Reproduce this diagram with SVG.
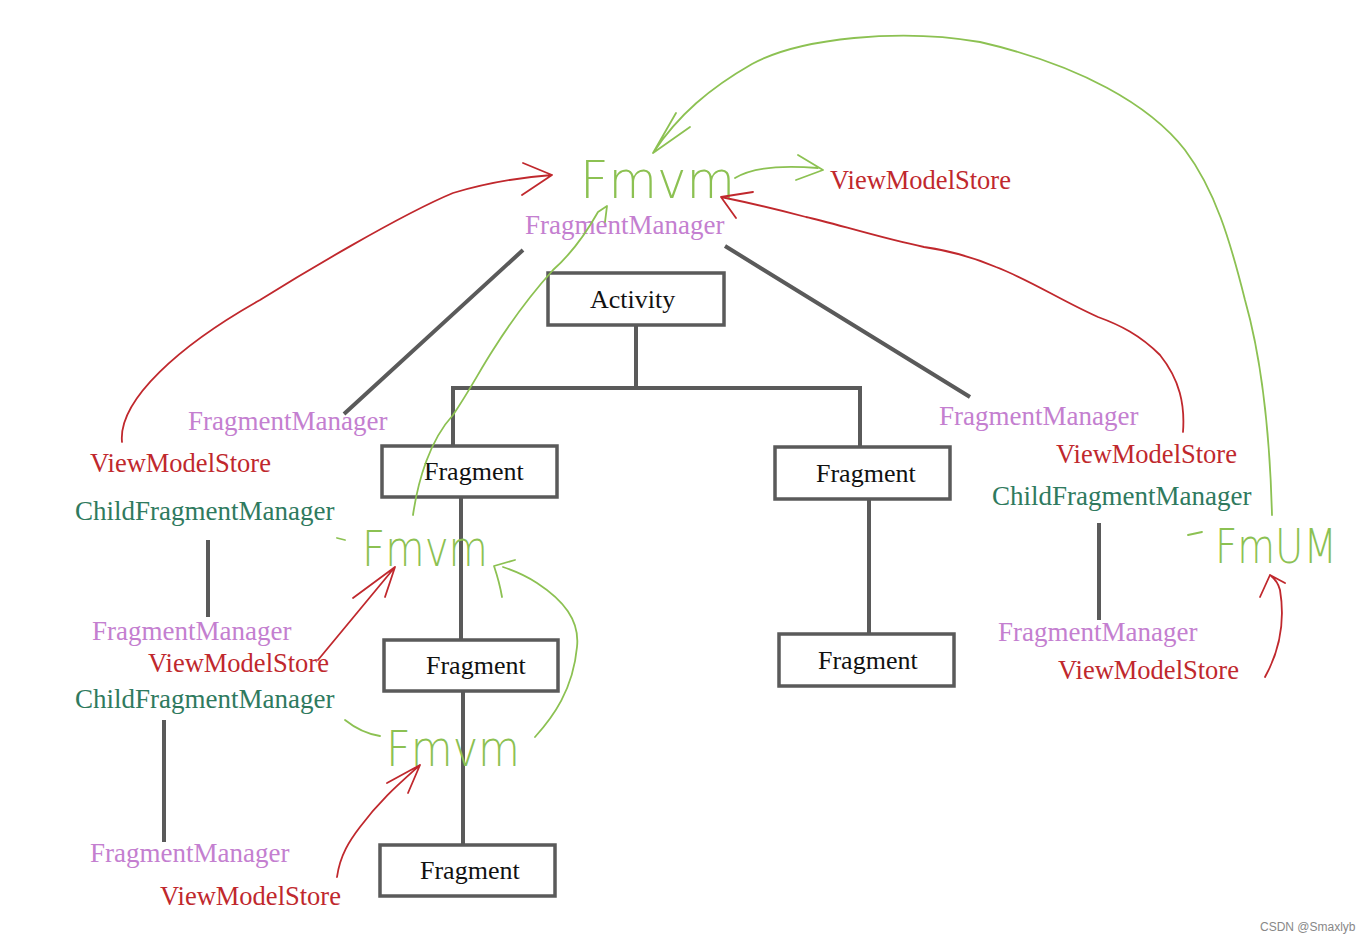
<svg xmlns="http://www.w3.org/2000/svg" width="1370" height="943" viewBox="0 0 1370 943">
<style>
.box{fill:#fff;stroke:#5a5a5a;stroke-width:3.5}
.bt{font-family:"Liberation Serif",serif;font-size:26px;fill:#111}
.ln{stroke:#5a5a5a;stroke-width:4;fill:none}
.fm{font-family:"Liberation Serif",serif;font-size:27px;fill:#c47fd0}
.vs{font-family:"Liberation Serif",serif;font-size:26.5px;fill:#c0282d}
.cf{font-family:"Liberation Serif",serif;font-size:27px;fill:#2f7a5e}
.hw{font-family:"DejaVu Sans",sans-serif;font-weight:200;fill:#8cc152}
.g{stroke:#8cc152;stroke-width:1.8;fill:none;stroke-linecap:round;stroke-linejoin:round}
.r{stroke:#c0282d;stroke-width:1.8;fill:none;stroke-linecap:round;stroke-linejoin:round}
</style>
<rect width="1370" height="943" fill="#fff"/>
<g id="connectors">
<path class="ln" d="M636,325 V388 M453,446 V388 H860 V447 M461,497 V640 M463,691 V845 M869,499 V634"/>
<path class="ln" d="M523,250 L344,414 M725,246 L970,397 M208,540 V617 M164,720 V842 M1099,523 V620"/>
</g>
<g id="node-activity"><rect class="box" x="548" y="273" width="176" height="52"/><text class="bt" x="590" y="308">Activity</text></g>
<g id="node-fragment-l1"><rect class="box" x="382" y="446" width="175" height="51"/><text class="bt" x="424" y="480">Fragment</text></g>
<g id="node-fragment-r1"><rect class="box" x="775" y="447" width="175" height="52"/><text class="bt" x="816" y="482">Fragment</text></g>
<g id="node-fragment-l2"><rect class="box" x="384" y="640" width="174" height="51"/><text class="bt" x="426" y="674">Fragment</text></g>
<g id="node-fragment-r2"><rect class="box" x="779" y="634" width="175" height="52"/><text class="bt" x="818" y="669">Fragment</text></g>
<g id="node-fragment-l3"><rect class="box" x="380" y="845" width="175" height="51"/><text class="bt" x="420" y="879">Fragment</text></g>
<g id="labels">
<text class="fm" x="525" y="234">FragmentManager</text>
<text class="vs" x="830" y="189">ViewModelStore</text>
<text class="fm" x="188" y="430">FragmentManager</text>
<text class="vs" x="90" y="472">ViewModelStore</text>
<text class="cf" x="75" y="520">ChildFragmentManager</text>
<text class="fm" x="92" y="640">FragmentManager</text>
<text class="vs" x="148" y="672">ViewModelStore</text>
<text class="cf" x="75" y="708">ChildFragmentManager</text>
<text class="fm" x="90" y="862">FragmentManager</text>
<text class="vs" x="160" y="905">ViewModelStore</text>
<text class="fm" x="939" y="425">FragmentManager</text>
<text class="vs" x="1056" y="463">ViewModelStore</text>
<text class="cf" x="992" y="505">ChildFragmentManager</text>
<text class="fm" x="998" y="641">FragmentManager</text>
<text class="vs" x="1058" y="679">ViewModelStore</text>
</g>
<g id="handwriting">
<text class="hw" x="580" y="198" font-size="52" textLength="155" lengthAdjust="spacingAndGlyphs">Fmvm</text>
<text class="hw" x="362" y="566" font-size="50" textLength="126" lengthAdjust="spacingAndGlyphs">Fmvm</text>
<text class="hw" x="386" y="766" font-size="50" textLength="134" lengthAdjust="spacingAndGlyphs">Fmvm</text>
<text class="hw" x="1215" y="563" font-size="48" textLength="122" lengthAdjust="spacingAndGlyphs">FmUM</text>
<path class="g" d="M337,538 L345,540 M345,720 C355,728 367,734 380,736 M1188,535 L1202,532"/>
</g>
<g id="arrows">
<path class="g" d="M1272,515 C1270,440 1262,360 1245,300 C1230,240 1215,190 1185,150 C1150,105 1080,65 980,42 C900,28 800,38 752,64 C710,88 678,115 653,153 M676,113 L653,153 L690,127"/>
<path class="g" d="M735,178 C748,170 770,164 818,168 M798,155 L823,170 L796,180"/>
<path class="g" d="M413,515 C418,480 430,440 453,415 C470,390 480,370 493,350 C515,315 535,290 553,270 C570,255 585,235 598,212 L607,206 L605,222"/>
<path class="g" d="M535,737 C553,717 573,690 577,647 C580,620 563,600 537,583 C525,575 512,570 503,567 M502,597 C500,585 497,575 494,566 L515,560"/>
<path class="r" d="M122,442 C118,400 180,345 260,300 C300,275 400,215 453,193 C490,182 525,177 552,175 M523,163 L552,175 L522,195"/>
<path class="r" d="M1183,432 C1185,405 1180,380 1160,355 C1140,335 1120,325 1098,317 C1060,300 1030,280 996,267 C970,256 945,250 924,247 C880,238 830,222 806,217 C780,210 750,203 721,197 M753,192 L721,197 L736,218"/>
<path class="r" d="M318,660 L395,567 M353,598 L395,567 L385,597"/>
<path class="r" d="M337,877 C340,855 350,840 360,827 C380,800 400,783 420,765 M387,783 L420,765 L408,793"/>
<path class="r" d="M1265,677 C1280,650 1285,620 1280,590 C1278,582 1274,578 1270,575 M1260,597 L1270,575 L1285,583"/>
</g>
<text x="1260" y="931" font-family="Liberation Sans,sans-serif" font-size="12" fill="#888">CSDN @Smaxlyb</text>
</svg>
